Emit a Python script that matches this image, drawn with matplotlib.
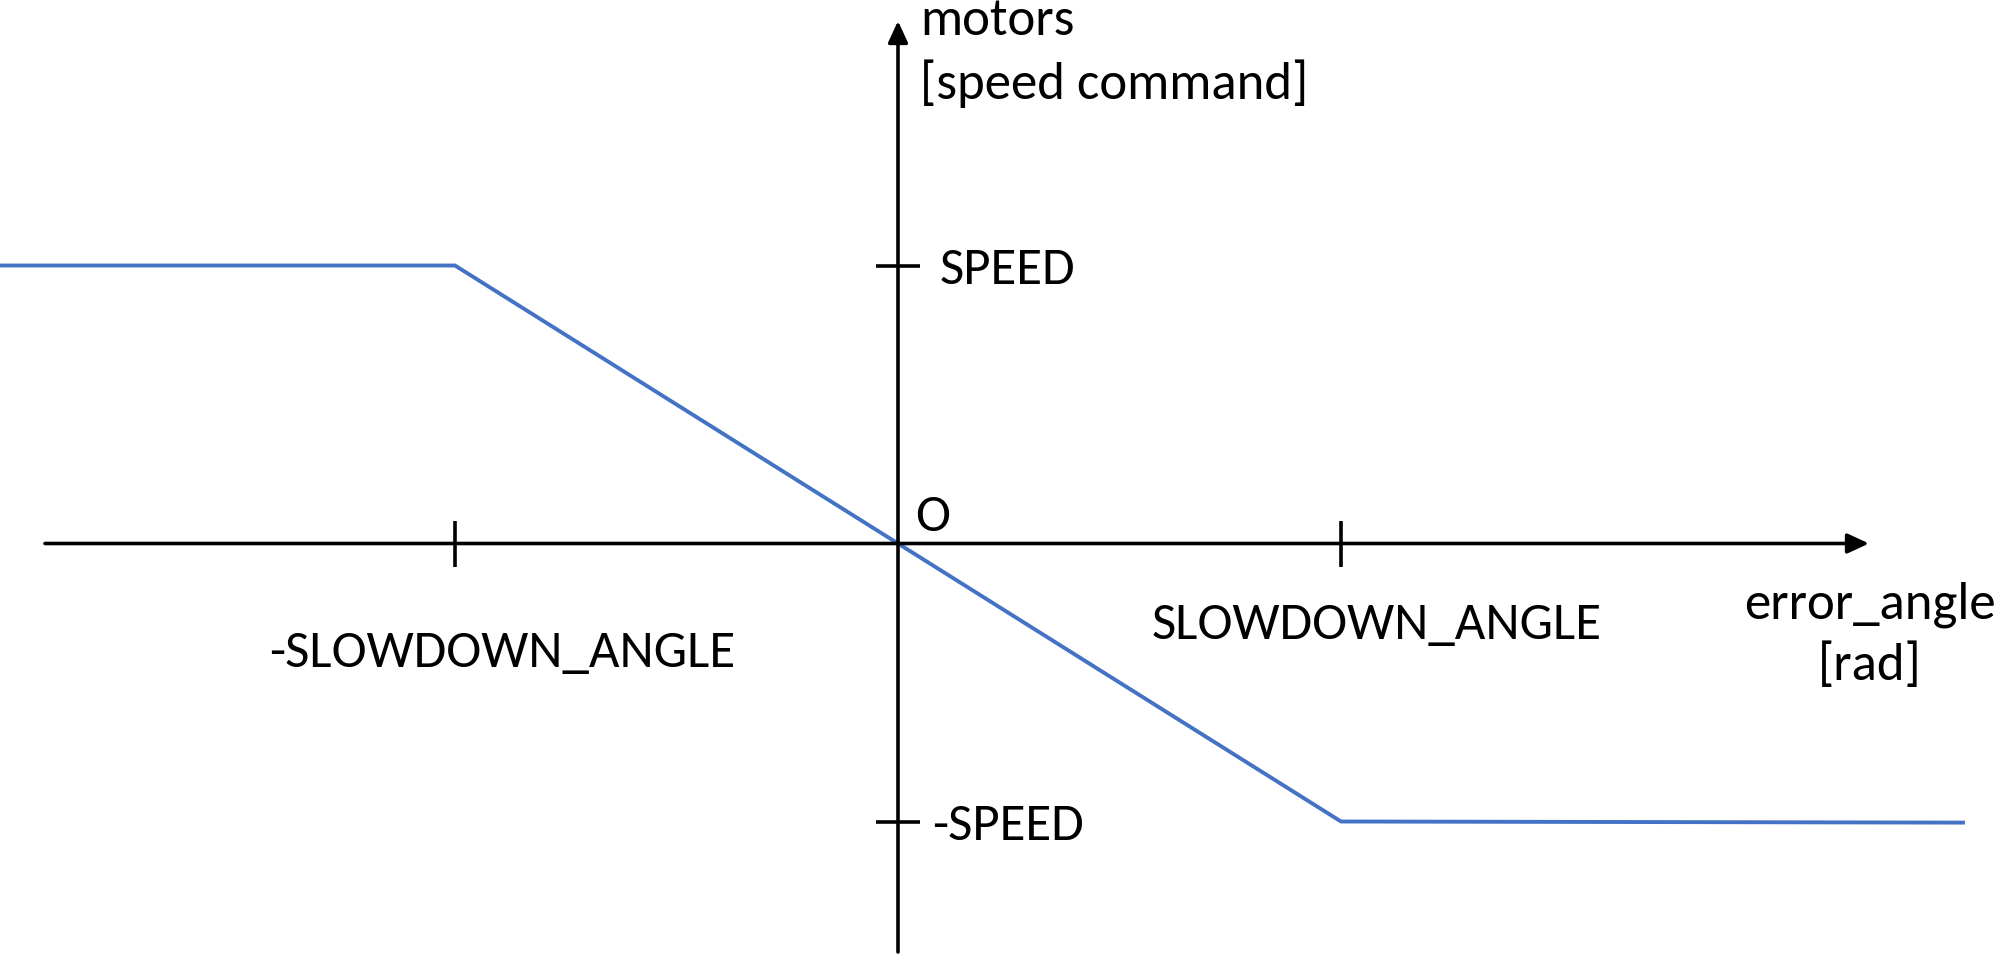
import matplotlib
matplotlib.use("Agg")
import matplotlib.pyplot as plt
from matplotlib import font_manager as fm

# ---------------- data ----------------
error_angle = [-2.03, -1.0, 1.0, 2.404]      # in units of SLOWDOWN_ANGLE
speed_cmd = [1.0, 1.0, -1.0, -1.004]         # in units of SPEED
x_tick_vals = [-1.0, 1.0]
x_tick_labels = ["-SLOWDOWN_ANGLE", "SLOWDOWN_ANGLE"]
y_tick_vals = [1.0, -1.0]
y_tick_labels = ["SPEED", "-SPEED"]
x_label = ["error_angle", "[rad]"]
y_label = ["motors", "[speed command]"]
origin_label = "O"

# ---------------- layout ----------------
W, H, DPI = 2004, 979, 100
ox, oy = 898.0, 544.5          # origin in pixels (from top-left)
ux, uy = 443.0, 278.0          # pixels per data unit

def X(px):
    return (px - ox) / ux

def Y(py):
    return (oy - py) / uy

avail = {f.name for f in fm.fontManager.ttflist}
family = "Carlito" if "Carlito" in avail else "Lato"

fig = plt.figure(figsize=(W / DPI, H / DPI), dpi=DPI)
ax = fig.add_axes([0, 0, 1, 1])
ax.set_xlim(X(0), X(W))
ax.set_ylim(Y(H), Y(0))
ax.axis("off")

blue = "#4472C4"
lw_axis = 2.6

# axes arrows
arrow_style = "-|>,head_length=1.3,head_width=0.6"
ax.annotate("", xy=(X(1869), 0), xytext=(X(45), 0),
            arrowprops=dict(arrowstyle=arrow_style, lw=lw_axis, color="black",
                            shrinkA=0, shrinkB=0, mutation_scale=10))
ax.annotate("", xy=(0, Y(22)), xytext=(0, Y(953)),
            arrowprops=dict(arrowstyle=arrow_style, lw=lw_axis, color="black",
                            shrinkA=0, shrinkB=0, mutation_scale=10))

# ticks
tx = 23 / uy
for v in x_tick_vals:
    ax.plot([v, v], [-tx, tx], color="black", lw=lw_axis, solid_capstyle="butt")
ty = 22 / ux
for v in y_tick_vals:
    ax.plot([-ty, ty], [v, v], color="black", lw=lw_axis, solid_capstyle="butt")

# function line
ax.plot(error_angle, speed_cmd, color=blue, lw=2.8, solid_joinstyle="miter")

# ---------------- text ----------------
fs0 = 38
probe = ax.text(0, 0, x_tick_labels[1], fontsize=fs0, family=family)
fig.canvas.draw()
w = probe.get_window_extent(fig.canvas.get_renderer()).width
probe.remove()
fs = fs0 * 450.0 / w

kw = dict(fontsize=fs, family=family, color="black")
ax.text(X(502), Y(667), x_tick_labels[0], ha="center", va="baseline", **kw)
ax.text(X(1377), Y(639), x_tick_labels[1], ha="center", va="baseline", **kw)
ax.text(X(940), Y(284), y_tick_labels[0], ha="left", va="baseline", **kw)
ax.text(X(932), Y(840), y_tick_labels[1], ha="left", va="baseline", **kw)
ax.text(X(915), Y(531), origin_label, ha="left", va="baseline", **kw)
ax.text(X(1870), Y(619), x_label[0], ha="center", va="baseline", **kw)
ax.text(X(1870), Y(680), x_label[1], ha="center", va="baseline", **kw)
ax.text(X(920), Y(35), y_label[0], ha="left", va="baseline", **kw)
ax.text(X(920), Y(99), y_label[1], ha="left", va="baseline", **kw)

fig.savefig("out.png", dpi=DPI, facecolor="white")
